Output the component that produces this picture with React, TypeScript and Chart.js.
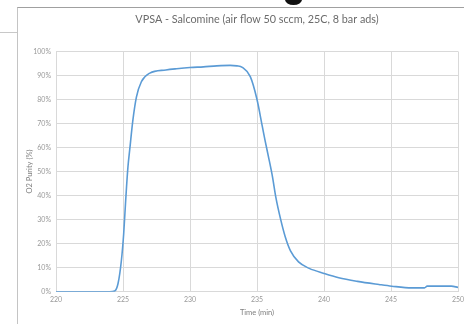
import React, { useEffect, useRef } from "react";
import { Chart, registerables } from "chart.js";

Chart.register(...registerables);

const chartTitle = "VPSA - Salcomine (air flow 50 sccm, 25C, 8 bar ads)";
const xTitle = "Time (min)";
const yTitle = "O2 Purity (%)";

const timeMin = [
  220, 221, 222, 223, 224, 224.38, 224.63, 224.88, 225.05, 225.2, 225.37, 225.5,
  225.74, 226, 226.37, 227, 228.2, 229, 230, 231, 232, 233, 233.5, 233.9, 234.5,
  235.0, 235.4, 235.6, 235.9, 236.15, 236.4, 236.77, 237.1, 237.5, 238.1, 238.9,
  240, 241.1, 242.5, 244.1, 245.06, 246.55, 247.5, 247.7, 249.5, 250,
];
const o2Purity = [
  0, 0, 0, 0, 0, 0.3, 3.4, 13, 24, 38, 52, 59,
  71.5, 81, 87.4, 91, 92.3, 92.8, 93.3, 93.6, 94, 94.2, 94.0, 93.4, 89.5,
  80, 68.7, 63, 55, 48, 39.5, 30, 23, 17, 12.4, 9.7,
  7.6, 5.8, 4.3, 3, 2.3, 1.6, 1.6, 2.3, 2.3, 1.8,
];

export default function App() {
  const ref = useRef<HTMLCanvasElement | null>(null);

  useEffect(() => {
    document.body.style.margin = "0";
    if (!ref.current) return;
    const chart = new Chart(ref.current, {
      type: "line",
      data: {
        datasets: [
          {
            data: timeMin.map((t, i) => ({ x: t, y: o2Purity[i] })),
            borderColor: "#5b9bd5",
            borderWidth: 1.6,
            pointRadius: 0,
            fill: false,
            cubicInterpolationMode: "monotone",
          },
        ],
      },
      options: {
        animation: false,
        responsive: false,
        layout: { padding: { left: 0, right: 6, top: 0, bottom: 0 } },
        plugins: {
          legend: { display: false },
          tooltip: { enabled: false },
          title: {
            display: true,
            fullSize: false,
            text: chartTitle,
            color: "#6b6b6b",
            font: { family: "Lato", size: 10.8, weight: "normal" },
            padding: { top: 13.5, bottom: 25.0 },
          },
        },
        scales: {
          x: {
            type: "linear",
            min: 220,
            max: 250,
            ticks: {
              stepSize: 5,
              color: "#999999",
              font: { family: "Lato", size: 7 },
              padding: 4,
            },
            grid: { color: "#d9d9d9", drawTicks: false },
            border: { color: "#d9d9d9" },
            title: {
              display: true,
              text: xTitle,
              color: "#808080",
              font: { family: "Lato", size: 7.5 },
              padding: { top: 0, bottom: 7 },
            },
            afterFit: (s: any) => {
              s.height = 32.3;
              s.paddingLeft = 0;
              s.paddingRight = 0;
            },
          },
          y: {
            min: 0,
            max: 100,
            ticks: {
              stepSize: 10,
              color: "#999999",
              font: { family: "Lato", size: 7 },
              padding: 5,
              callback: (v: any) => v + "%",
            },
            grid: { color: "#d9d9d9", drawTicks: false },
            border: { color: "#d9d9d9" },
            title: {
              display: true,
              text: yTitle,
              color: "#808080",
              font: { family: "Lato", size: 7.5 },
              padding: { top: 25.5, bottom: 0 },
            },
            afterFit: (s: any) => {
              s.width = 56;
            },
          },
        },
      },
    });
    return () => chart.destroy();
  }, []);

  return (
    <div style={{ position: "fixed", left: 0, top: 0, width: 464, height: 324, background: "#fff", overflow: "hidden" }}>
      <canvas ref={ref} width={464} height={324} style={{ position: "absolute", left: 0, top: 0 }} />
      <div style={{ position: "absolute", left: 17, top: 7, width: 460, height: 330, borderLeft: "1px solid #c4c4c4", borderTop: "1px solid #a0a0a0", pointerEvents: "none" }} />
      <div style={{ position: "absolute", left: 0, top: 32, width: 17, height: 0, borderTop: "1px solid #c8c8c8" }} />
      <div style={{ position: "absolute", left: 285, top: -6, width: 17, height: 11, borderRadius: "50%", background: "#111" }} />
    </div>
  );
}
